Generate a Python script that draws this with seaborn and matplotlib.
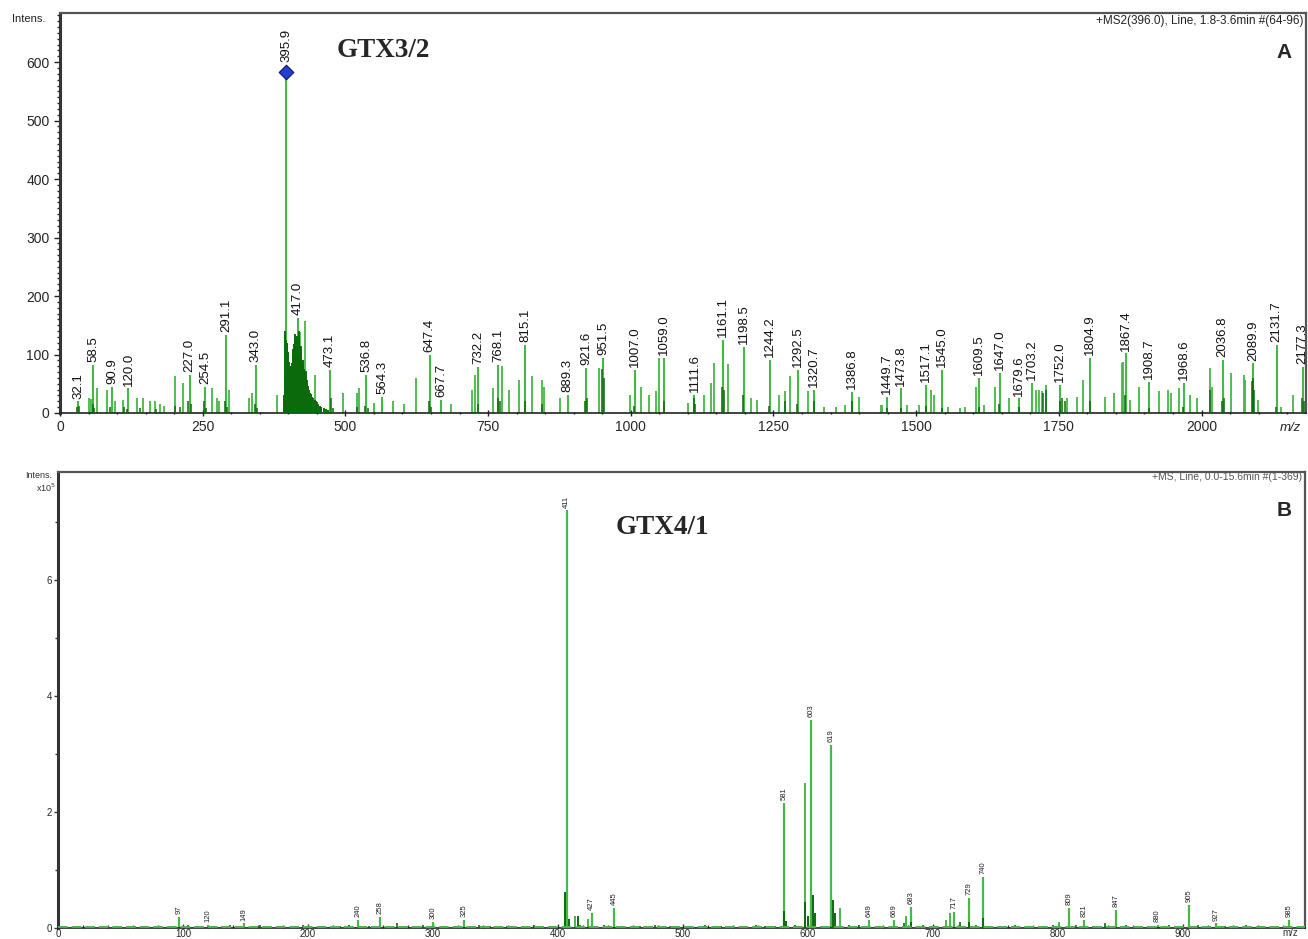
import numpy as np
import pandas as pd
import seaborn as sns
import matplotlib.pyplot as plt
from matplotlib.ticker import MultipleLocator

# %% data -- panel A (MS2 of m/z 396, GTX3/2), intensities in counts
a_mz = [32.1, 58.5, 90.9, 120.0, 227.0, 254.5, 291.1, 343.0, 395.9, 417.0, 473.1, 536.8,
        564.3, 647.4, 667.7, 732.2, 768.1, 815.1, 889.3, 921.6, 951.5, 1007.0, 1059.0,
        1111.6, 1161.1, 1198.5, 1244.2, 1292.5, 1320.7, 1386.8, 1449.7, 1473.8, 1517.1,
        1545.0, 1609.5, 1647.0, 1679.6, 1703.2, 1752.0, 1804.9, 1867.4, 1908.7, 1968.6,
        2036.8, 2089.9, 2131.7, 2177.3]
a_int = [20, 82, 45, 42, 65, 45, 133, 82, 583, 162, 74, 65,
         28, 99, 22, 79, 82, 116, 31, 77, 94, 74, 94,
         31, 125, 113, 91, 74, 39, 36, 28, 42, 48,
         74, 60, 68, 25, 51, 48, 94, 102, 53, 51,
         91, 85, 116, 79]

# unlabelled light green peaks
a_minor_mz = [51, 54, 65, 82, 97, 111, 135, 146, 158, 167, 176, 182, 202, 215, 266, 275, 278,
              296, 331, 337, 381, 420, 429, 446, 496, 520, 523, 551, 583, 603, 624, 685,
              722, 727, 759, 775, 786, 805, 827, 845, 848, 876, 944, 999, 1018, 1032, 1044,
              1050, 1100, 1129, 1141, 1146, 1170, 1210, 1222, 1259, 1270, 1279, 1310, 1338,
              1359, 1376, 1400, 1439, 1441, 1484, 1505, 1526, 1532, 1555, 1576, 1585, 1604,
              1618, 1638, 1662, 1710, 1715, 1721, 1728, 1764, 1781, 1793, 1831, 1846, 1860,
              1862, 1874, 1891, 1926, 1941, 1947, 1960, 1980, 1992, 2015, 2018, 2051, 2075,
              2077, 2099, 2140, 2161, 2183]
a_minor_int = [26, 24, 43, 40, 20, 22, 25, 25, 20, 20, 15, 12, 64, 51, 43, 25, 20,
               40, 25, 35, 31, 138, 158, 65, 34, 34, 42, 17, 20, 16, 60, 15,
               40, 65, 43, 80, 40, 57, 63, 57, 45, 26, 77, 31, 45, 31, 37,
               94, 17, 31, 51, 85, 83, 26, 23, 31, 37, 63, 37, 11,
               11, 14, 28, 14, 14, 14, 14, 40, 31, 11, 8, 11, 45,
               14, 45, 26, 40, 40, 37, 48, 26, 28, 57, 28, 34, 85,
               88, 23, 45, 37, 40, 34, 43, 31, 26, 77, 45, 68, 65,
               57, 23, 11, 31, 63]

# dark green envelope round the precursor
a_clu_mz = [392, 393, 394, 395, 396, 397, 398, 399, 400, 401, 402, 403, 404, 405, 406, 407,
            408, 409, 410, 411, 412, 413, 414, 415, 416, 417, 418, 419, 420, 421, 422, 423,
            424, 425, 426, 427, 428, 429, 430, 431, 432, 433, 434, 435, 436, 437, 438, 439,
            440, 442, 444, 446, 448, 450, 452, 455, 458, 462, 466, 470]
a_clu_int = [15, 30, 60, 140, 125, 115, 120, 105, 95, 88, 80, 78, 75, 80, 78, 85,
             100, 110, 118, 128, 135, 122, 115, 125, 132, 118, 140, 122, 112, 100, 115, 95,
             88, 90, 82, 75, 70, 66, 62, 72, 56, 50, 46, 42, 40, 38, 34, 32,
             30, 28, 25, 22, 20, 18, 15, 12, 10, 8, 6, 5]

# dark green bases / noise
a_dark_mz = [30, 33, 57, 60, 88, 112, 118, 141, 169, 202, 210, 224, 230, 253, 256, 289, 293,
             342, 345, 474, 478, 520, 535, 540, 646, 650, 733, 768, 771, 814, 845, 920, 924,
             950, 953, 1005, 1058, 1110, 1113, 1160, 1163, 1197, 1243, 1270, 1291, 1321, 1387,
             1449, 1474, 1518, 1546, 1610, 1646, 1680, 1722, 1728, 1752, 1756, 1760, 1805,
             1866, 1908, 1968, 2015, 2036, 2040, 2088, 2090, 2092, 2131, 2176, 2179]
a_dark_int = [10, 12, 15, 8, 10, 10, 6, 8, 6, 12, 10, 20, 15, 20, 8, 20, 10,
              15, 8, 25, 8, 10, 12, 8, 20, 10, 15, 25, 20, 20, 15, 20, 25,
              75, 60, 12, 20, 25, 15, 45, 40, 30, 12, 20, 15, 20, 20,
              8, 8, 12, 8, 10, 15, 10, 35, 40, 20, 25, 20, 20,
              30, 8, 10, 40, 20, 25, 55, 60, 40, 10, 25, 20]

# %% data -- panel B (full scan, GTX4/1), intensities x10^5
b_mz = [97, 120, 149, 240, 258, 300, 325, 407, 427, 445, 581, 603, 619, 649, 669, 683,
        717, 729, 740, 809, 821, 847, 880, 905, 927, 985]
b_labels = ["97", "120", "149", "240", "258", "300", "325", "411", "427", "445", "581", "603",
            "619", "649", "669", "683", "717", "729", "740", "809", "821", "847", "880", "905",
            "927", "985"]
b_int = [0.19, 0.05, 0.08, 0.14, 0.19, 0.10, 0.14, 7.2, 0.26, 0.35, 2.16, 3.59, 3.16, 0.14,
         0.14, 0.36, 0.28, 0.52, 0.88, 0.34, 0.14, 0.31, 0.05, 0.40, 0.08, 0.14]

b_minor_mz = [414, 424, 598, 626, 679, 711, 714, 801]
b_minor_int = [0.20, 0.15, 2.50, 0.34, 0.20, 0.14, 0.26, 0.10]

b_dark_mz = [406, 409, 416, 581, 583, 598, 600, 604, 606, 620, 622, 740, 683, 729]
b_dark_int = [0.62, 0.15, 0.20, 0.30, 0.12, 0.45, 0.20, 0.57, 0.25, 0.48, 0.25, 0.18, 0.10, 0.10]

b_noise_mz = [62, 75, 88, 104, 112, 131, 138, 156, 162, 175, 188, 196, 212, 226, 233, 249,
              265, 271, 284, 292, 311, 318, 337, 346, 359, 372, 381, 393, 418, 437, 452, 466,
              478, 490, 505, 518, 531, 547, 559, 566, 574, 590, 611, 633, 641, 656, 677, 692,
              703, 722, 735, 752, 766, 778, 790, 796, 815, 828, 838, 855, 866, 872, 889, 896,
              912, 934, 942, 951, 963, 975, 992]
b_noise_int = [0.03, 0.02, 0.04, 0.05, 0.03, 0.04, 0.06, 0.03, 0.05, 0.04, 0.03, 0.05, 0.04,
               0.03, 0.05, 0.04, 0.03, 0.08, 0.04, 0.05, 0.03, 0.04, 0.05, 0.03, 0.04, 0.03,
               0.05, 0.04, 0.06, 0.05, 0.04, 0.03, 0.05, 0.04, 0.03, 0.05, 0.04, 0.03, 0.05,
               0.04, 0.03, 0.05, 0.04, 0.06, 0.05, 0.04, 0.08, 0.05, 0.04, 0.10, 0.06, 0.04,
               0.05, 0.03, 0.04, 0.05, 0.06, 0.04, 0.08, 0.05, 0.04, 0.03, 0.05, 0.04, 0.05,
               0.04, 0.03, 0.05, 0.04, 0.03, 0.04]

LIGHT = "#45b845"
DARK = "#0b6a0b"
SPINE = "#555555"

# %% figure
sns.set_style("ticks")
plt.rcParams["font.family"] = ["Liberation Sans", "DejaVu Sans"]

W, H = 1308, 939
fig = plt.figure(figsize=(W / 100, H / 100), dpi=100)


def px_axes(left, top, right, bottom):
    return fig.add_axes([left / W, 1 - bottom / H, (right - left) / W, (bottom - top) / H])


axA = px_axes(60, 13, 1306, 413)
axB = px_axes(58, 472, 1305, 928)

# ---- panel A
axA.vlines(a_minor_mz, 0, a_minor_int, color=LIGHT, lw=1.3, zorder=2)
axA.vlines(a_mz, 0, a_int, color=LIGHT, lw=1.5, zorder=2)
axA.vlines(a_clu_mz, 0, a_clu_int, color=DARK, lw=1.4, zorder=3)
axA.vlines(a_dark_mz, 0, a_dark_int, color=DARK, lw=1.1, zorder=3)
sns.scatterplot(x=[395.9], y=[583], marker="D", s=55, color="#2440d0", edgecolor="#0a1660",
                linewidth=0.8, ax=axA, zorder=5, legend=False)

for mz, h in zip(a_mz, a_int):
    off = 7 if mz == 395.9 else 2
    axA.annotate(f"{mz:.1f}", (mz, h), xytext=(0, off), textcoords="offset points",
                 rotation=90, ha="center", va="bottom", fontsize=9.5, color="#111111")

axA.set_xlim(0, 2183)
axA.set_ylim(0, 684)
axA.xaxis.set_minor_locator(MultipleLocator(50))
axA.yaxis.set_major_locator(MultipleLocator(100))
axA.yaxis.set_minor_locator(MultipleLocator(10))
axA.set_xticks([0, 250, 500, 750, 1000, 1250, 1500, 1750, 2000])
axA.tick_params(axis="both", which="major", labelsize=10, length=4, width=1, color="#222222")
axA.tick_params(axis="both", which="minor", length=2, width=1, color="#222222")
axA.tick_params(axis="x", which="both", direction="inout", pad=3)

fig.text(12 / W, 1 - 19 / H, "Intens.", fontsize=8, ha="left", va="center", color="#222222")
fig.text(1290 / W, 1 - 428 / H, "m/z", fontsize=9.5, style="italic", ha="center", va="center")
axA.text(566, 620, "GTX3/2", family=["Liberation Serif", "DejaVu Serif"], fontweight="bold",
         fontsize=19.5, ha="center", va="center")
fig.text(1284 / W, 1 - 52 / H, "A", fontsize=15, fontweight="bold", ha="center", va="center")
fig.text(1304 / W, 1 - 21 / H, "+MS2(396.0), Line, 1.8-3.6min #(64-96)", fontsize=8.5,
         ha="right", va="center", color="#222222")

# ---- panel B
axB.vlines(b_noise_mz, 0, b_noise_int, color=DARK, lw=1.2, zorder=3)
axB.vlines(b_minor_mz, 0, b_minor_int, color=LIGHT, lw=1.4, zorder=2)
axB.vlines(b_mz, 0, b_int, color=LIGHT, lw=1.6, zorder=2)
axB.vlines(b_dark_mz, 0, b_dark_int, color=DARK, lw=1.4, zorder=3)
axB.axhline(0.01, color=LIGHT, lw=1.4, ls=(0, (5, 2)), zorder=4)

for mz, h, lab in zip(b_mz, b_int, b_labels):
    axB.annotate(lab, (mz, h), xytext=(0, 2), textcoords="offset points",
                 rotation=90, ha="center", va="bottom", fontsize=5.5, color="#222222")

axB.set_xlim(0, 998)
axB.set_ylim(0, 7.86)
axB.xaxis.set_minor_locator(MultipleLocator(20))
axB.set_xticks([0, 100, 200, 300, 400, 500, 600, 700, 800, 900])
axB.yaxis.set_minor_locator(MultipleLocator(1))
axB.set_yticks([0, 2, 4, 6])
axB.tick_params(axis="both", which="major", labelsize=7, length=3, width=1, color="#333333",
                pad=1.5)
axB.tick_params(axis="both", which="minor", length=2, width=1, color="#333333")
axB.tick_params(axis="x", which="both", direction="in", pad=0.5)

fig.text(52 / W, 1 - 476 / H, "Intens.", fontsize=6.5, ha="right", va="center", color="#333333")
fig.text(56 / W, 1 - 488 / H, r"x10$^5$", fontsize=6.5, ha="right", va="center", color="#333333")
fig.text(1290 / W, 1 - 933 / H, "m/z", fontsize=7, ha="center", va="center", color="#333333")
axB.text(484, 6.9, "GTX4/1", family=["Liberation Serif", "DejaVu Serif"], fontweight="bold",
         fontsize=19.5, ha="center", va="center")
fig.text(1284 / W, 1 - 511 / H, "B", fontsize=15, fontweight="bold", ha="center", va="center")
fig.text(1302 / W, 1 - 477 / H, "+MS, Line, 0.0-15.6min #(1-369)", fontsize=7.5,
         ha="right", va="center", color="#555555")

for ax in (axA, axB):
    for side in ("left", "right", "top"):
        ax.spines[side].set_color(SPINE)
        ax.spines[side].set_linewidth(1.6)
    ax.spines["left"].set_color("#333333")
    ax.spines["left"].set_linewidth(2.2)
    ax.spines["bottom"].set_color("#222222")
    ax.spines["bottom"].set_linewidth(1.2)
    ax.set_facecolor("white")

fig.savefig("out.png", dpi=100)
